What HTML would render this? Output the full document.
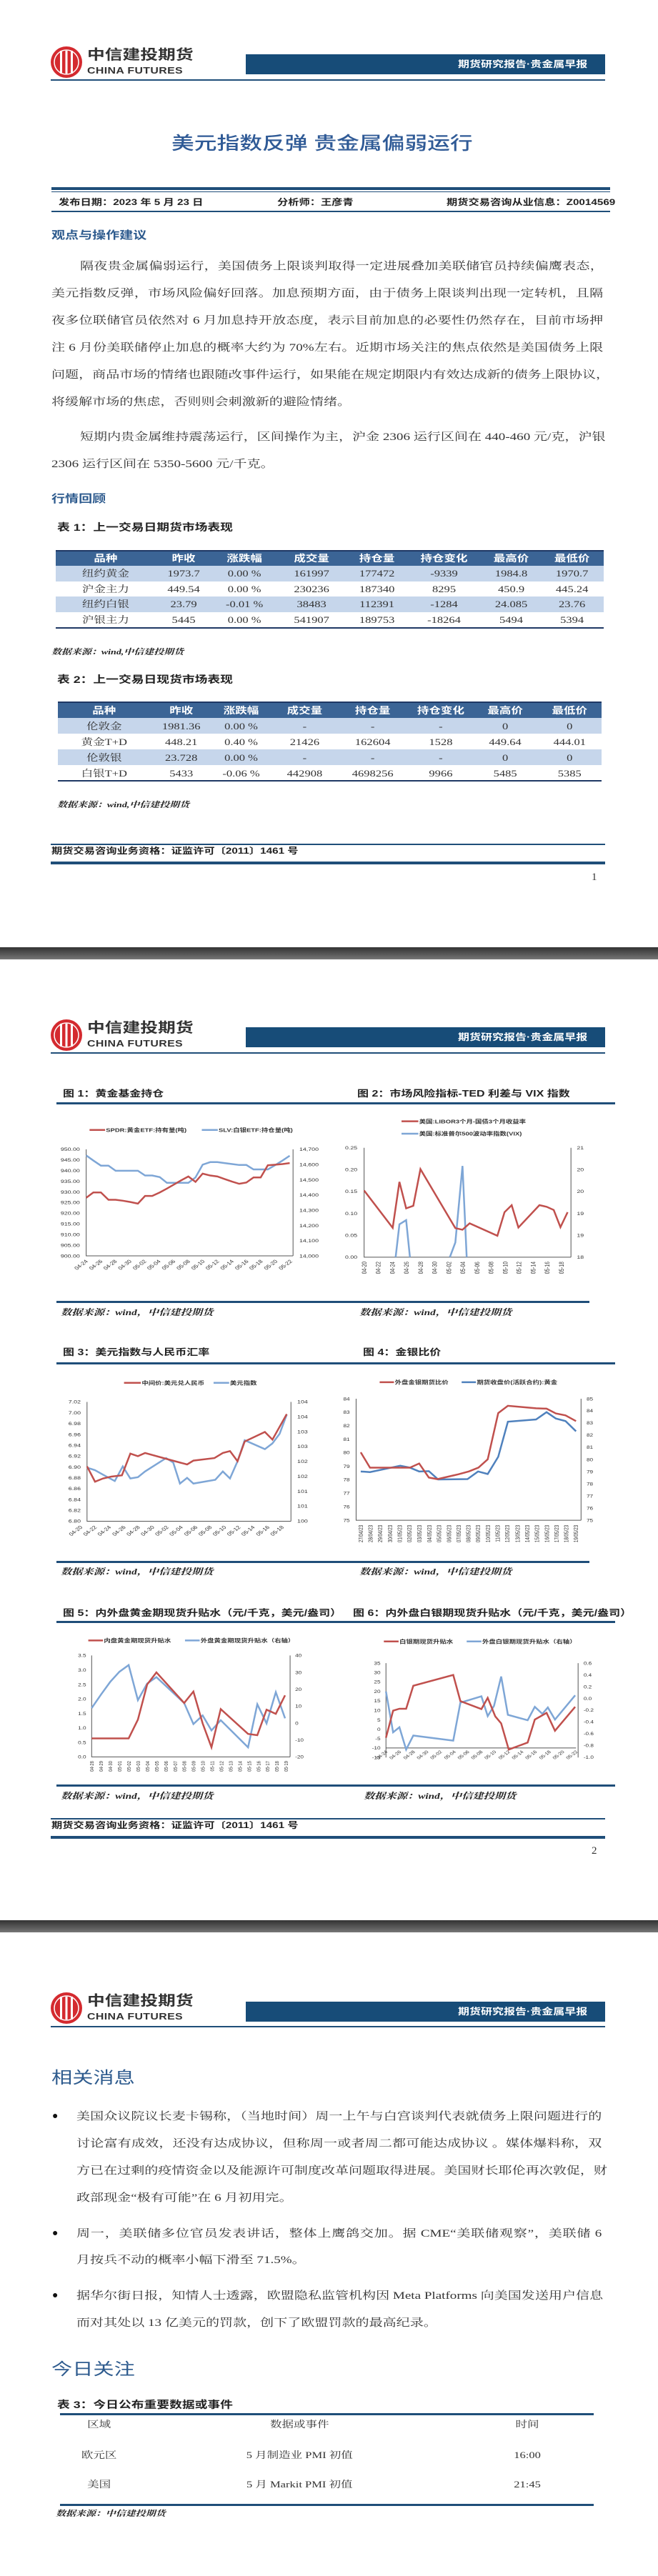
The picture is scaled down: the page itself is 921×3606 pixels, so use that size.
<!DOCTYPE html>
<html><head><meta charset="utf-8">
<style>
*{margin:0;padding:0;box-sizing:border-box}
body{width:921px;height:3606px;position:relative;background:#fff;overflow:hidden;color:#333;font-family:"Liberation Serif","Noto Serif CJK SC",serif}
.a{position:absolute}
.s{position:absolute;transform:scaleX(1.27);transform-origin:0 0;white-space:nowrap}
.p{font-size:15px;line-height:20px;color:#333}
.j{text-align:justify;text-align-last:justify}
.sans{font-family:"Liberation Sans","Noto Sans CJK SC",sans-serif}
.h{font-family:"Liberation Sans","Noto Sans CJK SC",sans-serif;font-weight:bold;color:#2e5b8e}
.bar{position:absolute;left:344px;top:76px;width:503px;height:28px;background:#174c78}
.rule{position:absolute;background:#1f4e79}
.c{position:absolute;transform:translateX(-50%);white-space:nowrap}
.tb{font-size:13px;line-height:21px;color:#333}
.th{font-family:"Liberation Sans","Noto Sans CJK SC",sans-serif;font-weight:bold;color:#fff}
.src{font-family:"Liberation Serif","Noto Serif CJK SC",serif;font-style:italic;font-weight:bold;font-size:11px;line-height:16px;color:#222}
.gray{position:absolute;left:0;width:921px;height:17px;background:linear-gradient(#333,#5a5a5a 60%,#777)}
</style></head><body>

<svg class="a" style="left:0;top:0" width="921" height="3606">
<defs>
<g id="logo">
<ellipse cx="93" cy="87" rx="22" ry="22" fill="#d42a2f"/>
<ellipse cx="93" cy="87" rx="17" ry="17" fill="none" stroke="#fff" stroke-width="1.5"/>
<rect x="84" y="71" width="3" height="32" fill="#fff"/><rect x="91.5" y="71" width="3" height="32" fill="#fff"/><rect x="99" y="71" width="3" height="32" fill="#fff"/>
</g>
</defs>
<use href="#logo"/><use href="#logo" y="1362"/><use href="#logo" y="2724"/>
</svg>

<div class="s sans" style="left:122px;top:64px;font-size:19.5px;font-weight:bold;color:#333;line-height:26px">中信建投期货</div>
<div class="s sans" style="left:122px;top:92px;font-size:12.5px;font-weight:bold;color:#333;line-height:15px;letter-spacing:0.3px">CHINA FUTURES</div>
<div class="bar"></div>
<div class="s sans" style="left:641px;top:80px;font-size:12.6px;font-weight:bold;color:#fff;line-height:20px">期货研究报告·贵金属早报</div>
<div class="rule" style="left:71px;top:111px;width:776px;height:2px"></div>

<div class="s sans" style="left:122px;top:1426px;font-size:19.5px;font-weight:bold;color:#333;line-height:26px">中信建投期货</div>
<div class="s sans" style="left:122px;top:1454px;font-size:12.5px;font-weight:bold;color:#333;line-height:15px;letter-spacing:0.3px">CHINA FUTURES</div>
<div class="bar" style="top:1438px"></div>
<div class="s sans" style="left:641px;top:1442px;font-size:12.6px;font-weight:bold;color:#fff;line-height:20px">期货研究报告·贵金属早报</div>
<div class="rule" style="left:71px;top:1473px;width:776px;height:2px"></div>

<div class="s sans" style="left:122px;top:2788px;font-size:19.5px;font-weight:bold;color:#333;line-height:26px">中信建投期货</div>
<div class="s sans" style="left:122px;top:2816px;font-size:12.5px;font-weight:bold;color:#333;line-height:15px;letter-spacing:0.3px">CHINA FUTURES</div>
<div class="bar" style="top:2802px"></div>
<div class="s sans" style="left:641px;top:2806px;font-size:12.6px;font-weight:bold;color:#fff;line-height:20px">期货研究报告·贵金属早报</div>
<div class="rule" style="left:71px;top:2836px;width:776px;height:2px"></div>

<!-- ============ PAGE 1 ============ -->
<div class="s sans" style="left:240px;top:184px;font-size:25px;line-height:34px;color:#2f5a96;font-weight:500">美元指数反弹 贵金属偏弱运行</div>

<div class="rule" style="left:72px;top:262px;width:782px;height:4px"></div>
<div class="rule" style="left:72px;top:268px;width:782px;height:1px"></div>
<div class="s sans" style="left:82px;top:274px;font-size:12px;font-weight:bold;line-height:18px;color:#222">发布日期：2023 年 5 月 23 日</div>
<div class="s sans" style="left:388px;top:274px;font-size:12px;font-weight:bold;line-height:18px;color:#222">分析师：王彦青</div>
<div class="s sans" style="left:625px;top:274px;font-size:12px;font-weight:bold;line-height:18px;color:#222">期货交易咨询从业信息：Z0014569</div>
<div class="rule" style="left:72px;top:295px;width:782px;height:2px"></div>

<div class="s h" style="left:72px;top:320px;font-size:15px;line-height:20px">观点与操作建议</div>

<div class="s p j" style="left:112px;top:363px;width:577px">隔夜贵金属偏弱运行，美国债务上限谈判取得一定进展叠加美联储官员持续偏鹰表态，</div>
<div class="s p j" style="left:72px;top:401px;width:608px">美元指数反弹，市场风险偏好回落。加息预期方面，由于债务上限谈判出现一定转机，且隔</div>
<div class="s p j" style="left:72px;top:439px;width:608px">夜多位联储官员依然对 6 月加息持开放态度，表示目前加息的必要性仍然存在，目前市场押</div>
<div class="s p j" style="left:72px;top:477px;width:608px">注 6 月份美联储停止加息的概率大约为 70%左右。近期市场关注的焦点依然是美国债务上限</div>
<div class="s p j" style="left:72px;top:515px;width:608px">问题，商品市场的情绪也跟随改事件运行，如果能在规定期限内有效达成新的债务上限协议，</div>
<div class="s p" style="left:72px;top:553px">将缓解市场的焦虑，否则则会刺激新的避险情绪。</div>
<div class="s p j" style="left:112px;top:602px;width:577px">短期内贵金属维持震荡运行，区间操作为主，沪金 2306 运行区间在 440-460 元/克，沪银</div>
<div class="s p" style="left:72px;top:640px">2306 运行区间在 5350-5600 元/千克。</div>

<div class="s h" style="left:72px;top:689px;font-size:15px;line-height:20px">行情回顾</div>

<div class="s sans" style="left:80px;top:729px;font-size:14px;font-weight:bold;line-height:18px;color:#222">表 1：上一交易日期货市场表现</div>

<div class="a" style="left:78px;top:770px;width:767px;height:22px;background:#3b6495;border-top:2px solid #1f3864"></div>
<div class="a" style="left:78px;top:792px;width:767px;height:22px;background:#c6d6eb"></div>
<div class="a" style="left:78px;top:835px;width:767px;height:22px;background:#c6d6eb"></div>
<div class="a" style="left:78px;top:878px;width:767px;height:2px;background:#1f3864"></div>
<div class="s tb" style="left:78px;top:771px;width:604px;height:110px">
<div class="th" style="position:absolute;top:0;left:0;width:604px;height:21px">
<span class="c" style="left:55px">品种</span><span class="c" style="left:141px">昨收</span><span class="c" style="left:208px">涨跌幅</span><span class="c" style="left:282px">成交量</span><span class="c" style="left:354px">持仓量</span><span class="c" style="left:428px">持仓变化</span><span class="c" style="left:502px">最高价</span><span class="c" style="left:569px">最低价</span></div>
<div style="position:absolute;top:21px;left:0;width:604px;height:21px"><span class="c" style="left:55px">纽约黄金</span><span class="c" style="left:141px">1973.7</span><span class="c" style="left:208px">0.00 %</span><span class="c" style="left:282px">161997</span><span class="c" style="left:354px">177472</span><span class="c" style="left:428px">-9339</span><span class="c" style="left:502px">1984.8</span><span class="c" style="left:569px">1970.7</span></div>
<div style="position:absolute;top:43px;left:0;width:604px;height:21px"><span class="c" style="left:55px">沪金主力</span><span class="c" style="left:141px">449.54</span><span class="c" style="left:208px">0.00 %</span><span class="c" style="left:282px">230236</span><span class="c" style="left:354px">187340</span><span class="c" style="left:428px">8295</span><span class="c" style="left:502px">450.9</span><span class="c" style="left:569px">445.24</span></div>
<div style="position:absolute;top:64px;left:0;width:604px;height:21px"><span class="c" style="left:55px">纽约白银</span><span class="c" style="left:141px">23.79</span><span class="c" style="left:208px">-0.01 %</span><span class="c" style="left:282px">38483</span><span class="c" style="left:354px">112391</span><span class="c" style="left:428px">-1284</span><span class="c" style="left:502px">24.085</span><span class="c" style="left:569px">23.76</span></div>
<div style="position:absolute;top:86px;left:0;width:604px;height:21px"><span class="c" style="left:55px">沪银主力</span><span class="c" style="left:141px">5445</span><span class="c" style="left:208px">0.00 %</span><span class="c" style="left:282px">541907</span><span class="c" style="left:354px">189753</span><span class="c" style="left:428px">-18264</span><span class="c" style="left:502px">5494</span><span class="c" style="left:569px">5394</span></div>
</div>
<div class="s src" style="left:72px;top:905px">数据来源：wind,中信建投期货</div>

<div class="s sans" style="left:80px;top:942px;font-size:14px;font-weight:bold;line-height:18px;color:#222">表 2：上一交易日现货市场表现</div>

<div class="a" style="left:81px;top:982px;width:761px;height:23px;background:#3b6495;border-top:2px solid #1f3864"></div>
<div class="a" style="left:81px;top:1005px;width:761px;height:22px;background:#c6d6eb"></div>
<div class="a" style="left:81px;top:1049px;width:761px;height:22px;background:#c6d6eb"></div>
<div class="a" style="left:81px;top:1092px;width:761px;height:2px;background:#1f3864"></div>
<div class="s tb" style="left:81px;top:984px;width:599px;height:110px">
<div class="th" style="position:absolute;top:0;left:0;width:599px;height:21px">
<span class="c" style="left:51px">品种</span><span class="c" style="left:136px">昨收</span><span class="c" style="left:202px">涨跌幅</span><span class="c" style="left:272px">成交量</span><span class="c" style="left:347px">持仓量</span><span class="c" style="left:422px">持仓变化</span><span class="c" style="left:493px">最高价</span><span class="c" style="left:564px">最低价</span></div>
<div style="position:absolute;top:22px;left:0;width:599px;height:21px"><span class="c" style="left:51px">伦敦金</span><span class="c" style="left:136px">1981.36</span><span class="c" style="left:202px">0.00 %</span><span class="c" style="left:272px">-</span><span class="c" style="left:347px">-</span><span class="c" style="left:422px">-</span><span class="c" style="left:493px">0</span><span class="c" style="left:564px">0</span></div>
<div style="position:absolute;top:44px;left:0;width:599px;height:21px"><span class="c" style="left:51px">黄金T+D</span><span class="c" style="left:136px">448.21</span><span class="c" style="left:202px">0.40 %</span><span class="c" style="left:272px">21426</span><span class="c" style="left:347px">162604</span><span class="c" style="left:422px">1528</span><span class="c" style="left:493px">449.64</span><span class="c" style="left:564px">444.01</span></div>
<div style="position:absolute;top:66px;left:0;width:599px;height:21px"><span class="c" style="left:51px">伦敦银</span><span class="c" style="left:136px">23.728</span><span class="c" style="left:202px">0.00 %</span><span class="c" style="left:272px">-</span><span class="c" style="left:347px">-</span><span class="c" style="left:422px">-</span><span class="c" style="left:493px">0</span><span class="c" style="left:564px">0</span></div>
<div style="position:absolute;top:88px;left:0;width:599px;height:21px"><span class="c" style="left:51px">白银T+D</span><span class="c" style="left:136px">5433</span><span class="c" style="left:202px">-0.06 %</span><span class="c" style="left:272px">442908</span><span class="c" style="left:347px">4698256</span><span class="c" style="left:422px">9966</span><span class="c" style="left:493px">5485</span><span class="c" style="left:564px">5385</span></div>
</div>
<div class="s src" style="left:80px;top:1119px">数据来源：wind,中信建投期货</div>

<div class="rule" style="left:71px;top:1181px;width:776px;height:2px"></div>
<div class="s sans" style="left:72px;top:1183px;font-size:12px;font-weight:bold;line-height:17px;color:#222">期货交易咨询业务资格：证监许可〔2011〕1461 号</div>
<div class="rule" style="left:71px;top:1206px;width:776px;height:4px"></div>
<div class="a" style="left:828px;top:1219px;font-size:15px;line-height:18px">1</div>
<div class="gray" style="top:1326px"></div>

<!-- ============ PAGE 2 ============ -->
<div class="s sans" style="left:88px;top:1522px;font-size:12.6px;font-weight:bold;line-height:18px;color:#222">图 1：黄金基金持仓</div>
<div class="s sans" style="left:500px;top:1522px;font-size:12.6px;font-weight:bold;line-height:18px;color:#222">图 2：市场风险指标-TED 利差与 VIX 指数</div>
<div class="rule" style="left:79px;top:1543px;width:782px;height:3px"></div>
<div class="rule" style="left:79px;top:1821px;width:746px;height:3px"></div>
<div class="s src" style="left:85px;top:1829px;font-size:12px">数据来源：wind，中信建投期货</div>
<div class="s src" style="left:503px;top:1829px;font-size:12px">数据来源：wind，中信建投期货</div>

<div class="s sans" style="left:88px;top:1884px;font-size:12.6px;font-weight:bold;line-height:18px;color:#222">图 3：美元指数与人民币汇率</div>
<div class="s sans" style="left:508px;top:1884px;font-size:12.6px;font-weight:bold;line-height:18px;color:#222">图 4：金银比价</div>
<div class="rule" style="left:79px;top:1907px;width:782px;height:3px"></div>
<div class="rule" style="left:79px;top:2185px;width:746px;height:3px"></div>
<div class="s src" style="left:85px;top:2192px;font-size:12px">数据来源：wind，中信建投期货</div>
<div class="s src" style="left:503px;top:2192px;font-size:12px">数据来源：wind，中信建投期货</div>

<div class="s sans" style="left:88px;top:2249px;font-size:12.6px;font-weight:bold;line-height:18px;color:#222">图 5：内外盘黄金期现货升贴水（元/千克，美元/盎司）</div>
<div class="s sans" style="left:494px;top:2249px;font-size:12.6px;font-weight:bold;line-height:18px;color:#222">图 6：内外盘白银期现货升贴水（元/千克，美元/盎司）</div>
<div class="rule" style="left:79px;top:2269px;width:782px;height:3px"></div>
<div class="rule" style="left:79px;top:2498px;width:782px;height:3px"></div>
<div class="s src" style="left:85px;top:2506px;font-size:12px">数据来源：wind，中信建投期货</div>
<div class="s src" style="left:509px;top:2506px;font-size:12px">数据来源：wind，中信建投期货</div>

<div class="rule" style="left:71px;top:2545px;width:776px;height:2px"></div>
<div class="s sans" style="left:72px;top:2547px;font-size:12px;font-weight:bold;line-height:17px;color:#222">期货交易咨询业务资格：证监许可〔2011〕1461 号</div>
<div class="rule" style="left:71px;top:2570px;width:776px;height:4px"></div>
<div class="a" style="left:828px;top:2582px;font-size:15px;line-height:18px">2</div>
<div class="gray" style="top:2688px"></div>

<svg class="a" style="left:0;top:0" width="921" height="3606" font-family="Liberation Sans, Noto Sans CJK SC, sans-serif">
<g transform="translate(0,1400) scale(0.58849,0.44643)" fill="#333" font-size="15">
<path fill="none" stroke="#555" vector-effect="non-scaling-stroke" d="M205 468V802H697M697 468V802M866 463V806H1358M1358 463V806M207 1260V1634H692M692 1260V1634M847 1250V1631H1382M1382 1250V1631"/>
<line x1="213" y1="407" x2="250" y2="407" stroke="#c0504d" stroke-width="2.5" vector-effect="non-scaling-stroke"/>
<text x="252" y="413" font-size="16" font-weight="bold">SPDR:黄金ETF:持有量(吨)</text>
<line x1="480" y1="407" x2="518" y2="407" stroke="#7ea6d6" stroke-width="2.5" vector-effect="non-scaling-stroke"/>
<text x="520" y="413" font-size="16" font-weight="bold">SLV:白银ETF:持仓量(吨)</text>
<g text-anchor="end">
<text x="190" y="473">950.00</text><text x="190" y="506">945.00</text><text x="190" y="540">940.00</text><text x="190" y="573">935.00</text><text x="190" y="607">930.00</text><text x="190" y="640">925.00</text><text x="190" y="673">920.00</text><text x="190" y="707">915.00</text><text x="190" y="740">910.00</text><text x="190" y="774">905.00</text><text x="190" y="807">900.00</text>
</g>
<g>
<text x="712" y="473">14,700</text><text x="712" y="521">14,600</text><text x="712" y="569">14,500</text><text x="712" y="616">14,400</text><text x="712" y="664">14,300</text><text x="712" y="712">14,200</text><text x="712" y="759">14,100</text><text x="712" y="807">14,000</text>
</g>
<g text-anchor="end">
<text transform="rotate(-45 210 820)" x="210" y="820">04-24</text><text transform="rotate(-45 245 820)" x="245" y="820">04-26</text><text transform="rotate(-45 279 820)" x="279" y="820">04-28</text><text transform="rotate(-45 314 820)" x="314" y="820">04-30</text><text transform="rotate(-45 349 820)" x="349" y="820">05-02</text><text transform="rotate(-45 383 820)" x="383" y="820">05-04</text><text transform="rotate(-45 418 820)" x="418" y="820">05-06</text><text transform="rotate(-45 453 820)" x="453" y="820">05-08</text><text transform="rotate(-45 488 820)" x="488" y="820">05-10</text><text transform="rotate(-45 522 820)" x="522" y="820">05-12</text><text transform="rotate(-45 557 820)" x="557" y="820">05-14</text><text transform="rotate(-45 592 820)" x="592" y="820">05-16</text><text transform="rotate(-45 626 820)" x="626" y="820">05-18</text><text transform="rotate(-45 661 820)" x="661" y="820">05-20</text><text transform="rotate(-45 696 820)" x="696" y="820">05-22</text>
</g>
<polyline fill="none" stroke="#7ea6d6" stroke-width="2.5" vector-effect="non-scaling-stroke" points="205,487 222,503 240,519 258,519 275,535 292,535 310,535 328,535 345,550 362,550 380,555 397,573 414,573 431,573 448,573 465,556 482,516 500,508 517,508 534,511 552,514 569,517 586,517 603,531 620,531 637,531 655,517 672,503 689,488"/>
<polyline fill="none" stroke="#c0504d" stroke-width="2.5" vector-effect="non-scaling-stroke" points="205,620 222,603 240,603 258,626 275,626 292,629 310,633 328,638 345,614 362,614 380,603 397,591 414,578 431,565 448,553 465,570 482,544 500,550 517,553 534,561 552,569 569,576 586,572 603,556 620,556 637,518 655,516 672,514 689,511"/>

<line x1="955" y1="380" x2="995" y2="380" stroke="#c0504d" stroke-width="2.5" vector-effect="non-scaling-stroke"/>
<text x="997" y="386" font-size="16" font-weight="bold">美国:LIBOR3个月-国债3个月收益率</text>
<line x1="955" y1="419" x2="995" y2="419" stroke="#7ea6d6" stroke-width="2.5" vector-effect="non-scaling-stroke"/>
<text x="997" y="425" font-size="16" font-weight="bold">美国:标准普尔500波动率指数(VIX)</text>
<g text-anchor="end">
<text x="850" y="468">0.25</text><text x="850" y="537">0.20</text><text x="850" y="605">0.15</text><text x="850" y="674">0.10</text><text x="850" y="743">0.05</text><text x="850" y="811">0.00</text>
</g>
<g><text x="1372" y="468">21</text><text x="1372" y="537">20</text><text x="1372" y="605">20</text><text x="1372" y="674">19</text><text x="1372" y="743">19</text><text x="1372" y="811">18</text></g>
<g text-anchor="end">
<text transform="rotate(-90 872 820)" x="872" y="820">04-20</text><text transform="rotate(-90 905 820)" x="905" y="820">04-22</text><text transform="rotate(-90 939 820)" x="939" y="820">04-24</text><text transform="rotate(-90 972 820)" x="972" y="820">04-26</text><text transform="rotate(-90 1006 820)" x="1006" y="820">04-28</text><text transform="rotate(-90 1039 820)" x="1039" y="820">04-30</text><text transform="rotate(-90 1073 820)" x="1073" y="820">05-02</text><text transform="rotate(-90 1106 820)" x="1106" y="820">05-04</text><text transform="rotate(-90 1140 820)" x="1140" y="820">05-06</text><text transform="rotate(-90 1173 820)" x="1173" y="820">05-08</text><text transform="rotate(-90 1207 820)" x="1207" y="820">05-10</text><text transform="rotate(-90 1240 820)" x="1240" y="820">05-12</text><text transform="rotate(-90 1274 820)" x="1274" y="820">05-14</text><text transform="rotate(-90 1307 820)" x="1307" y="820">05-16</text><text transform="rotate(-90 1341 820)" x="1341" y="820">05-18</text>
</g>
<polyline fill="none" stroke="#7ea6d6" stroke-width="2.5" vector-effect="non-scaling-stroke" points="941,806 950,703 966,690 975,806"/>
<polyline fill="none" stroke="#7ea6d6" stroke-width="2.5" vector-effect="non-scaling-stroke" points="1070,806 1083,760 1100,520 1110,806"/>
<polyline fill="none" stroke="#c0504d" stroke-width="2.5" vector-effect="non-scaling-stroke" points="866,597 934,714 950,570 966,653 983,645 1000,530 1083,715 1100,720 1117,700 1183,739 1200,665 1217,643 1233,713 1283,643 1300,648 1317,658 1333,712 1350,665"/>

<line x1="295" y1="1200" x2="335" y2="1200" stroke="#c0504d" stroke-width="2.5" vector-effect="non-scaling-stroke"/>
<text x="337" y="1206" font-size="16" font-weight="bold">中间价:美元兑人民币</text>
<line x1="508" y1="1200" x2="545" y2="1200" stroke="#7ea6d6" stroke-width="2.5" vector-effect="non-scaling-stroke"/>
<text x="547" y="1206" font-size="16" font-weight="bold">美元指数</text>
<g text-anchor="end">
<text x="192" y="1265">7.02</text><text x="192" y="1299">7.00</text><text x="192" y="1333">6.98</text><text x="192" y="1367">6.96</text><text x="192" y="1401">6.94</text><text x="192" y="1435">6.92</text><text x="192" y="1469">6.90</text><text x="192" y="1503">6.88</text><text x="192" y="1537">6.86</text><text x="192" y="1571">6.84</text><text x="192" y="1605">6.82</text><text x="192" y="1639">6.80</text>
</g>
<g><text x="707" y="1265">104</text><text x="707" y="1312">104</text><text x="707" y="1359">103</text><text x="707" y="1405">103</text><text x="707" y="1452">102</text><text x="707" y="1499">102</text><text x="707" y="1546">101</text><text x="707" y="1592">101</text><text x="707" y="1639">100</text></g>
<g text-anchor="end">
<text transform="rotate(-45 197 1654)" x="197" y="1654">04-20</text><text transform="rotate(-45 231 1654)" x="231" y="1654">04-22</text><text transform="rotate(-45 265 1654)" x="265" y="1654">04-24</text><text transform="rotate(-45 300 1654)" x="300" y="1654">04-26</text><text transform="rotate(-45 334 1654)" x="334" y="1654">04-28</text><text transform="rotate(-45 368 1654)" x="368" y="1654">04-30</text><text transform="rotate(-45 402 1654)" x="402" y="1654">05-02</text><text transform="rotate(-45 436 1654)" x="436" y="1654">05-04</text><text transform="rotate(-45 471 1654)" x="471" y="1654">05-06</text><text transform="rotate(-45 505 1654)" x="505" y="1654">05-08</text><text transform="rotate(-45 539 1654)" x="539" y="1654">05-10</text><text transform="rotate(-45 573 1654)" x="573" y="1654">05-12</text><text transform="rotate(-45 607 1654)" x="607" y="1654">05-14</text><text transform="rotate(-45 642 1654)" x="642" y="1654">05-16</text><text transform="rotate(-45 676 1654)" x="676" y="1654">05-18</text>
</g>
<polyline fill="none" stroke="#7ea6d6" stroke-width="2.5" vector-effect="non-scaling-stroke" points="207,1466 226,1474 245,1488 273,1508 292,1462 310,1500 328,1496 345,1478 395,1436 412,1450 428,1516 445,1498 460,1516 512,1504 530,1478 547,1500 565,1446 582,1380 630,1408 648,1390 665,1360 682,1300"/>
<polyline fill="none" stroke="#c0504d" stroke-width="2.5" vector-effect="non-scaling-stroke" points="207,1462 226,1510 245,1500 265,1494 290,1490 310,1422 328,1430 345,1420 400,1440 445,1456 460,1444 510,1436 530,1420 547,1414 565,1446 582,1384 630,1354 648,1378 665,1338 682,1298"/>

<line x1="903" y1="1198" x2="937" y2="1198" stroke="#c0504d" stroke-width="2.5" vector-effect="non-scaling-stroke"/>
<text x="939" y="1204" font-size="16" font-weight="bold">外盘金银期货比价</text>
<line x1="1098" y1="1198" x2="1132" y2="1198" stroke="#4f81bd" stroke-width="2.5" vector-effect="non-scaling-stroke"/>
<text x="1134" y="1204" font-size="16" font-weight="bold">期货收盘价(活跃合约):黄金</text>
<g text-anchor="end" font-size="14">
<text x="832" y="1255">84</text><text x="832" y="1297">83</text><text x="832" y="1340">82</text><text x="832" y="1382">81</text><text x="832" y="1424">80</text><text x="832" y="1467">79</text><text x="832" y="1509">78</text><text x="832" y="1551">77</text><text x="832" y="1594">76</text><text x="832" y="1636">75</text>
</g>
<g font-size="14"><text x="1395" y="1255">85</text><text x="1395" y="1293">84</text><text x="1395" y="1331">83</text><text x="1395" y="1369">82</text><text x="1395" y="1407">81</text><text x="1395" y="1446">80</text><text x="1395" y="1484">79</text><text x="1395" y="1522">78</text><text x="1395" y="1560">77</text><text x="1395" y="1598">76</text><text x="1395" y="1636">75</text></g>
<g text-anchor="end" font-size="14">
<text transform="rotate(-90 863 1646)" x="863" y="1646">27/04/23</text><text transform="rotate(-90 886 1646)" x="886" y="1646">28/04/23</text><text transform="rotate(-90 909 1646)" x="909" y="1646">29/04/23</text><text transform="rotate(-90 933 1646)" x="933" y="1646">30/04/23</text><text transform="rotate(-90 956 1646)" x="956" y="1646">01/05/23</text><text transform="rotate(-90 979 1646)" x="979" y="1646">02/05/23</text><text transform="rotate(-90 1003 1646)" x="1003" y="1646">03/05/23</text><text transform="rotate(-90 1026 1646)" x="1026" y="1646">04/05/23</text><text transform="rotate(-90 1049 1646)" x="1049" y="1646">05/05/23</text><text transform="rotate(-90 1073 1646)" x="1073" y="1646">06/05/23</text><text transform="rotate(-90 1096 1646)" x="1096" y="1646">07/05/23</text><text transform="rotate(-90 1119 1646)" x="1119" y="1646">08/05/23</text><text transform="rotate(-90 1142 1646)" x="1142" y="1646">09/05/23</text><text transform="rotate(-90 1166 1646)" x="1166" y="1646">10/05/23</text><text transform="rotate(-90 1189 1646)" x="1189" y="1646">11/05/23</text><text transform="rotate(-90 1212 1646)" x="1212" y="1646">12/05/23</text><text transform="rotate(-90 1236 1646)" x="1236" y="1646">13/05/23</text><text transform="rotate(-90 1259 1646)" x="1259" y="1646">14/05/23</text><text transform="rotate(-90 1282 1646)" x="1282" y="1646">15/05/23</text><text transform="rotate(-90 1306 1646)" x="1306" y="1646">16/05/23</text><text transform="rotate(-90 1329 1646)" x="1329" y="1646">17/05/23</text><text transform="rotate(-90 1352 1646)" x="1352" y="1646">18/05/23</text><text transform="rotate(-90 1375 1646)" x="1375" y="1646">19/05/23</text>
</g>
<polyline fill="none" stroke="#4f81bd" stroke-width="2.5" vector-effect="non-scaling-stroke" points="858,1478 880,1480 952,1460 975,1466 997,1478 1020,1477 1042,1503 1112,1502 1137,1478 1160,1486 1185,1432 1208,1322 1275,1315 1300,1292 1322,1312 1345,1320 1370,1352"/>
<polyline fill="none" stroke="#c0504d" stroke-width="2.5" vector-effect="non-scaling-stroke" points="858,1418 880,1466 975,1466 997,1453 1020,1497 1040,1502 1090,1487 1115,1478 1138,1466 1160,1440 1185,1295 1208,1272 1275,1280 1300,1281 1322,1296 1345,1302 1370,1320"/>
</g>

<g transform="translate(0,2100) scale(0.58849,0.44643)" fill="#333" font-size="14">
<path fill="none" stroke="#555" vector-effect="non-scaling-stroke" d="M218 487V805H690M690 487V805M918 511V807M1375 511V807M918 777H1370"/>
<line x1="210" y1="440" x2="245" y2="440" stroke="#c0504d" stroke-width="2.5" vector-effect="non-scaling-stroke"/>
<text x="247" y="446" font-size="16" font-weight="bold">内盘黄金期现货升贴水</text>
<line x1="440" y1="440" x2="475" y2="440" stroke="#7ea6d6" stroke-width="2.5" vector-effect="non-scaling-stroke"/>
<text x="477" y="446" font-size="16" font-weight="bold">外盘黄金期现货升贴水（右轴）</text>
<g text-anchor="end"><text x="205" y="492">3.5</text><text x="205" y="538">3.0</text><text x="205" y="583">2.5</text><text x="205" y="628">2.0</text><text x="205" y="674">1.5</text><text x="205" y="719">1.0</text><text x="205" y="765">0.5</text><text x="205" y="810">0.0</text></g>
<g><text x="702" y="492">40</text><text x="702" y="545">30</text><text x="702" y="598">20</text><text x="702" y="651">10</text><text x="702" y="704">0</text><text x="702" y="757">-10</text><text x="702" y="810">-20</text></g>
<g text-anchor="end" font-size="13">
<text transform="rotate(-90 223 818)" x="223" y="818">04-28</text><text transform="rotate(-90 245 818)" x="245" y="818">04-29</text><text transform="rotate(-90 267 818)" x="267" y="818">04-30</text><text transform="rotate(-90 289 818)" x="289" y="818">05-01</text><text transform="rotate(-90 311 818)" x="311" y="818">05-02</text><text transform="rotate(-90 333 818)" x="333" y="818">05-03</text><text transform="rotate(-90 355 818)" x="355" y="818">05-04</text><text transform="rotate(-90 377 818)" x="377" y="818">05-05</text><text transform="rotate(-90 399 818)" x="399" y="818">05-06</text><text transform="rotate(-90 421 818)" x="421" y="818">05-07</text><text transform="rotate(-90 443 818)" x="443" y="818">05-08</text><text transform="rotate(-90 465 818)" x="465" y="818">05-09</text><text transform="rotate(-90 487 818)" x="487" y="818">05-10</text><text transform="rotate(-90 509 818)" x="509" y="818">05-11</text><text transform="rotate(-90 531 818)" x="531" y="818">05-12</text><text transform="rotate(-90 553 818)" x="553" y="818">05-13</text><text transform="rotate(-90 575 818)" x="575" y="818">05-14</text><text transform="rotate(-90 597 818)" x="597" y="818">05-15</text><text transform="rotate(-90 619 818)" x="619" y="818">05-16</text><text transform="rotate(-90 641 818)" x="641" y="818">05-17</text><text transform="rotate(-90 663 818)" x="663" y="818">05-18</text><text transform="rotate(-90 685 818)" x="685" y="818">05-19</text>
</g>
<polyline fill="none" stroke="#7ea6d6" stroke-width="2.5" vector-effect="non-scaling-stroke" points="218,652 240,610 262,570 284,538 306,517 328,627 350,575 372,555 438,636 460,702 482,675 503,722 525,690 590,775 612,640 634,700 656,602 678,684"/>
<polyline fill="none" stroke="#c0504d" stroke-width="2.5" vector-effect="non-scaling-stroke" points="218,747 306,747 328,688 350,578 372,540 438,636 460,600 482,700 503,775 525,655 590,733 612,737 634,657 656,670 678,612"/>

<line x1="913" y1="443" x2="948" y2="443" stroke="#c0504d" stroke-width="2.5" vector-effect="non-scaling-stroke"/>
<text x="950" y="449" font-size="16" font-weight="bold">白银期现货升贴水</text>
<line x1="1110" y1="443" x2="1145" y2="443" stroke="#7ea6d6" stroke-width="2.5" vector-effect="non-scaling-stroke"/>
<text x="1147" y="449" font-size="16" font-weight="bold">外盘白银期现货升贴水（右轴）</text>
<g text-anchor="end"><text x="905" y="516">35</text><text x="905" y="546">30</text><text x="905" y="575">25</text><text x="905" y="605">20</text><text x="905" y="634">15</text><text x="905" y="664">10</text><text x="905" y="694">5</text><text x="905" y="723">0</text><text x="905" y="753">-5</text><text x="905" y="782">-10</text><text x="905" y="812">-15</text></g>
<g><text x="1388" y="516">0.6</text><text x="1388" y="553">0.4</text><text x="1388" y="590">0.2</text><text x="1388" y="627">0.0</text><text x="1388" y="663">-0.2</text><text x="1388" y="700">-0.4</text><text x="1388" y="737">-0.6</text><text x="1388" y="774">-0.8</text><text x="1388" y="811">-1.0</text></g>
<g text-anchor="end" font-size="13">
<text transform="rotate(-45 923 790)" x="923" y="790">04-24</text><text transform="rotate(-45 955 790)" x="955" y="790">04-26</text><text transform="rotate(-45 988 790)" x="988" y="790">04-28</text><text transform="rotate(-45 1020 790)" x="1020" y="790">04-30</text><text transform="rotate(-45 1052 790)" x="1052" y="790">05-02</text><text transform="rotate(-45 1085 790)" x="1085" y="790">05-04</text><text transform="rotate(-45 1117 790)" x="1117" y="790">05-06</text><text transform="rotate(-45 1149 790)" x="1149" y="790">05-08</text><text transform="rotate(-45 1181 790)" x="1181" y="790">05-10</text><text transform="rotate(-45 1214 790)" x="1214" y="790">05-12</text><text transform="rotate(-45 1246 790)" x="1246" y="790">05-14</text><text transform="rotate(-45 1278 790)" x="1278" y="790">05-16</text><text transform="rotate(-45 1311 790)" x="1311" y="790">05-18</text><text transform="rotate(-45 1343 790)" x="1343" y="790">05-20</text><text transform="rotate(-45 1375 790)" x="1375" y="790">05-22</text>
</g>
<polyline fill="none" stroke="#7ea6d6" stroke-width="2.5" vector-effect="non-scaling-stroke" points="918,600 935,728 950,712 966,782 983,738 1078,754 1095,635 1145,615 1160,677 1175,645 1192,553 1208,673 1255,690 1272,648 1290,670 1303,650 1320,688 1368,612"/>
<polyline fill="none" stroke="#c0504d" stroke-width="2.5" vector-effect="non-scaling-stroke" points="918,745 935,660 950,654 966,654 983,582 1078,548 1095,630 1145,655 1160,620 1178,678 1192,700 1210,782 1255,760 1272,688 1300,667 1320,723 1368,648"/>
</g>
</svg>

<!-- ============ PAGE 3 ============ -->
<div class="s h" style="left:72px;top:2892px;font-size:23px;line-height:32px;font-weight:normal;color:#2e5b8e">相关消息</div>

<div class="a" style="left:73px;top:2953px;font-size:14px;line-height:20px;color:#111">●</div>
<div class="s p j" style="left:107px;top:2953px;width:579px">美国众议院议长麦卡锡称，（当地时间）周一上午与白宫谈判代表就债务上限问题进行的</div>
<div class="s p j" style="left:107px;top:2991px;width:579px">讨论富有成效，还没有达成协议，但称周一或者周二都可能达成协议 。媒体爆料称，双</div>
<div class="s p j" style="left:107px;top:3029px;width:579px">方已在过剩的疫情资金以及能源许可制度改革问题取得进展。美国财长耶伦再次敦促，财</div>
<div class="s p" style="left:107px;top:3067px">政部现金“极有可能”在 6 月初用完。</div>

<div class="a" style="left:73px;top:3117px;font-size:14px;line-height:20px;color:#111">●</div>
<div class="s p j" style="left:107px;top:3117px;width:579px">周一，美联储多位官员发表讲话，整体上鹰鸽交加。据 CME“美联储观察”，美联储 6</div>
<div class="s p" style="left:107px;top:3154px">月按兵不动的概率小幅下滑至 71.5%。</div>

<div class="a" style="left:73px;top:3204px;font-size:14px;line-height:20px;color:#111">●</div>
<div class="s p j" style="left:107px;top:3204px;width:579px">据华尔街日报，知情人士透露，欧盟隐私监管机构因 Meta Platforms 向美国发送用户信息</div>
<div class="s p" style="left:107px;top:3242px">而对其处以 13 亿美元的罚款，创下了欧盟罚款的最高纪录。</div>

<div class="s h" style="left:72px;top:3300px;font-size:23px;line-height:32px;font-weight:normal;color:#2e5b8e">今日关注</div>

<div class="s sans" style="left:80px;top:3357px;font-size:14px;font-weight:bold;line-height:18px;color:#222">表 3：今日公布重要数据或事件</div>
<div class="rule" style="left:84px;top:3378px;width:747px;height:3px"></div>
<div class="s tb" style="left:84px;top:3384px;width:588px;height:110px;font-size:13px;line-height:20px">
<div style="position:absolute;top:0;left:0;width:588px"><span class="c" style="left:43px">区域</span><span class="c" style="left:264px">数据或事件</span><span class="c" style="left:515px">时间</span></div>
<div style="position:absolute;top:43px;left:0;width:588px"><span class="c" style="left:43px">欧元区</span><span class="c" style="left:264px">5 月制造业 PMI 初值</span><span class="c" style="left:515px">16:00</span></div>
<div style="position:absolute;top:84px;left:0;width:588px"><span class="c" style="left:43px">美国</span><span class="c" style="left:264px">5 月 Markit PMI 初值</span><span class="c" style="left:515px">21:45</span></div>
</div>
<div class="rule" style="left:84px;top:3505px;width:747px;height:3px"></div>
<div class="s src" style="left:78px;top:3511px">数据来源：中信建投期货</div>

</body></html>
